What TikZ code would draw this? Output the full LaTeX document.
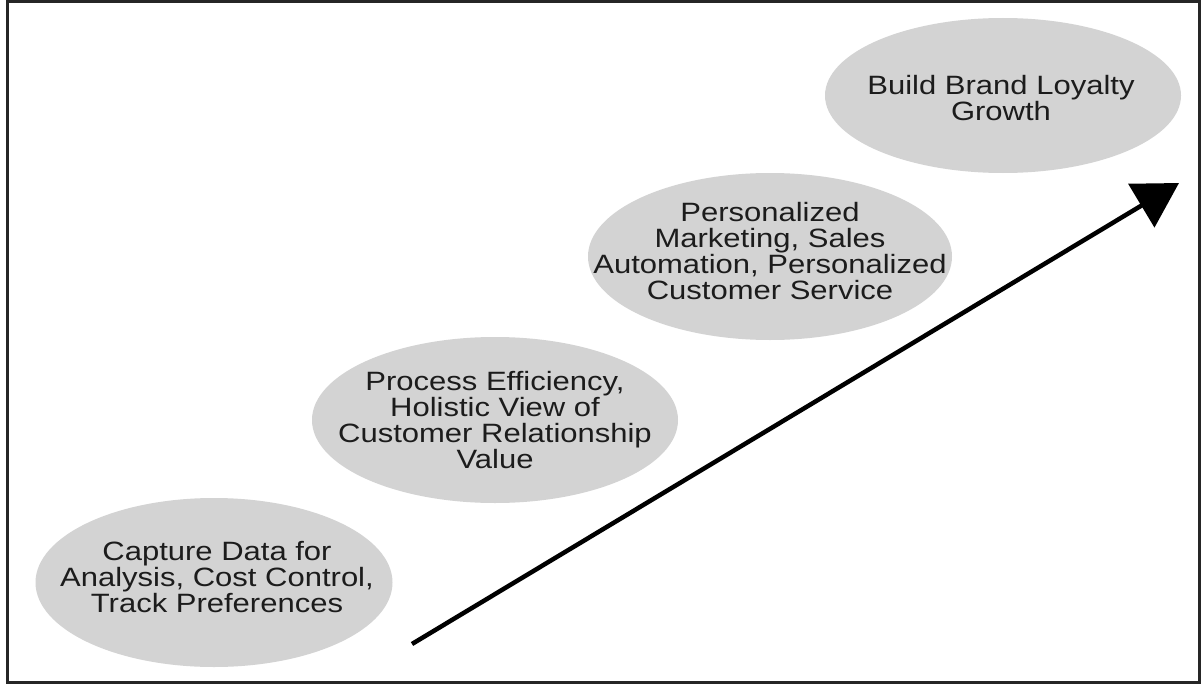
\documentclass[tikz,border=0pt]{standalone}
\usepackage{fontspec}
\setmainfont[FakeStretch=1.17]{Liberation Sans}
\usetikzlibrary{arrows.meta}
\definecolor{ellgray}{RGB}{211,211,211}
\definecolor{txt}{RGB}{28,28,28}
\tikzset{
  stagetext/.style={text=txt, align=center, inner sep=0pt,
    font=\fontsize{26.5}{26}\selectfont},
  stagefill/.style={fill=ellgray},
}
\begin{document}
\begin{tikzpicture}[x=1pt,y=-1pt]
\useasboundingbox (0,0) rectangle (1202,685);
\fill[white] (0,0) rectangle (1202,685);
\draw[line width=3pt, black!85] (7.5,1.5) rectangle (1199.5,682.5);
% ellipses
\fill[stagefill] (214,582.5) ellipse [x radius=178.5, y radius=84.5];
\node[stagetext] (e1) at (217,577.5) {Capture Data for\\Analysis, Cost Control,\\Track Preferences};
\fill[stagefill] (495,420) ellipse [x radius=183, y radius=83];
\node[stagetext] (e2) at (495,420) {Process Efficiency,\\Holistic View of\\Customer Relationship\\Value};
\fill[stagefill] (770,256.5) ellipse [x radius=182, y radius=83.5];
\node[stagetext] (e3) at (770,251.5) {Personalized\\Marketing, Sales\\Automation, Personalized\\Customer Service};
\fill[stagefill] (1003,95.5) ellipse [x radius=178, y radius=77.5];
\node[stagetext] (e4) at (1001,98) {Build Brand Loyalty\\Growth};
% arrow
\coordinate (tail) at (412,644);
\coordinate (tip) at (1179,183);
\draw[line width=4.5pt, -{Triangle[length=44pt,width=50pt]}] (tail) -- (tip);
\end{tikzpicture}
\end{document}
